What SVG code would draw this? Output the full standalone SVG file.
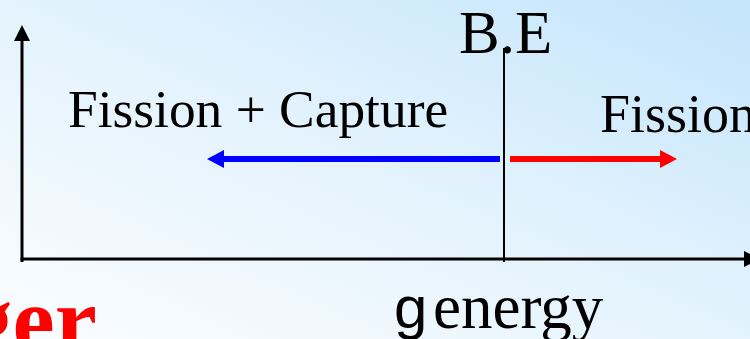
<svg xmlns="http://www.w3.org/2000/svg" width="750" height="339" viewBox="0 0 750 339">
  <defs>
    <linearGradient id="bg" x1="0" y1="1" x2="1" y2="0">
      <stop offset="0" stop-color="#fbfdff"/>
      <stop offset="0.5" stop-color="#e4f3fd"/>
      <stop offset="1" stop-color="#c3e5fb"/>
    </linearGradient>
  </defs>
  <style>
    .t { font-family: "Liberation Serif", "Times New Roman", serif; fill: #000; }
    .ax { stroke: #000; stroke-width: 3; fill: none; }
  </style>
  <rect x="0" y="0" width="750" height="339" fill="url(#bg)"/>

  <g id="axes">
    <line class="ax" x1="22" y1="40" x2="22" y2="262"/>
    <polygon points="22,25 14,41 30,41" fill="#000"/>
    <line class="ax" x1="20.5" y1="259" x2="746" y2="259"/>
    <polygon points="744,251 760,259 744,267" fill="#000"/>
  </g>

  <g id="be-line">
    <line x1="504" y1="48" x2="504" y2="262" stroke="#000" stroke-width="2"/>
  </g>

  <g id="connectors">
    <g id="blue-arrow">
      <line x1="500" y1="159" x2="222" y2="159" stroke="#0000ff" stroke-width="6"/>
      <polygon points="207,159 224,150 224,168" fill="#0000ff"/>
    </g>
    <g id="red-arrow">
      <line x1="510" y1="159" x2="662" y2="159" stroke="#ff0000" stroke-width="6"/>
      <polygon points="677,159 660,150 660,168" fill="#ff0000"/>
    </g>
  </g>

  <g id="labels">
    <text id="be" class="t" x="459" y="53" font-size="61">B.E</text>
    <text id="fission-capture" class="t" x="68" y="127" font-size="53.4">Fission + Capture</text>
    <text id="fission" class="t" x="600" y="132" font-size="54">Fission</text>
    <text id="gamma" x="394" y="328" font-size="60" font-family="'Liberation Sans', Arial, sans-serif" fill="#000">g</text>
    <text id="energy" class="t" x="433" y="328" font-size="63">energy</text>
    <text id="red-word" x="-35" y="352" font-size="95" font-weight="bold" font-family="'Liberation Serif', 'Times New Roman', serif" fill="#ff0000">ger</text>
  </g>
</svg>
